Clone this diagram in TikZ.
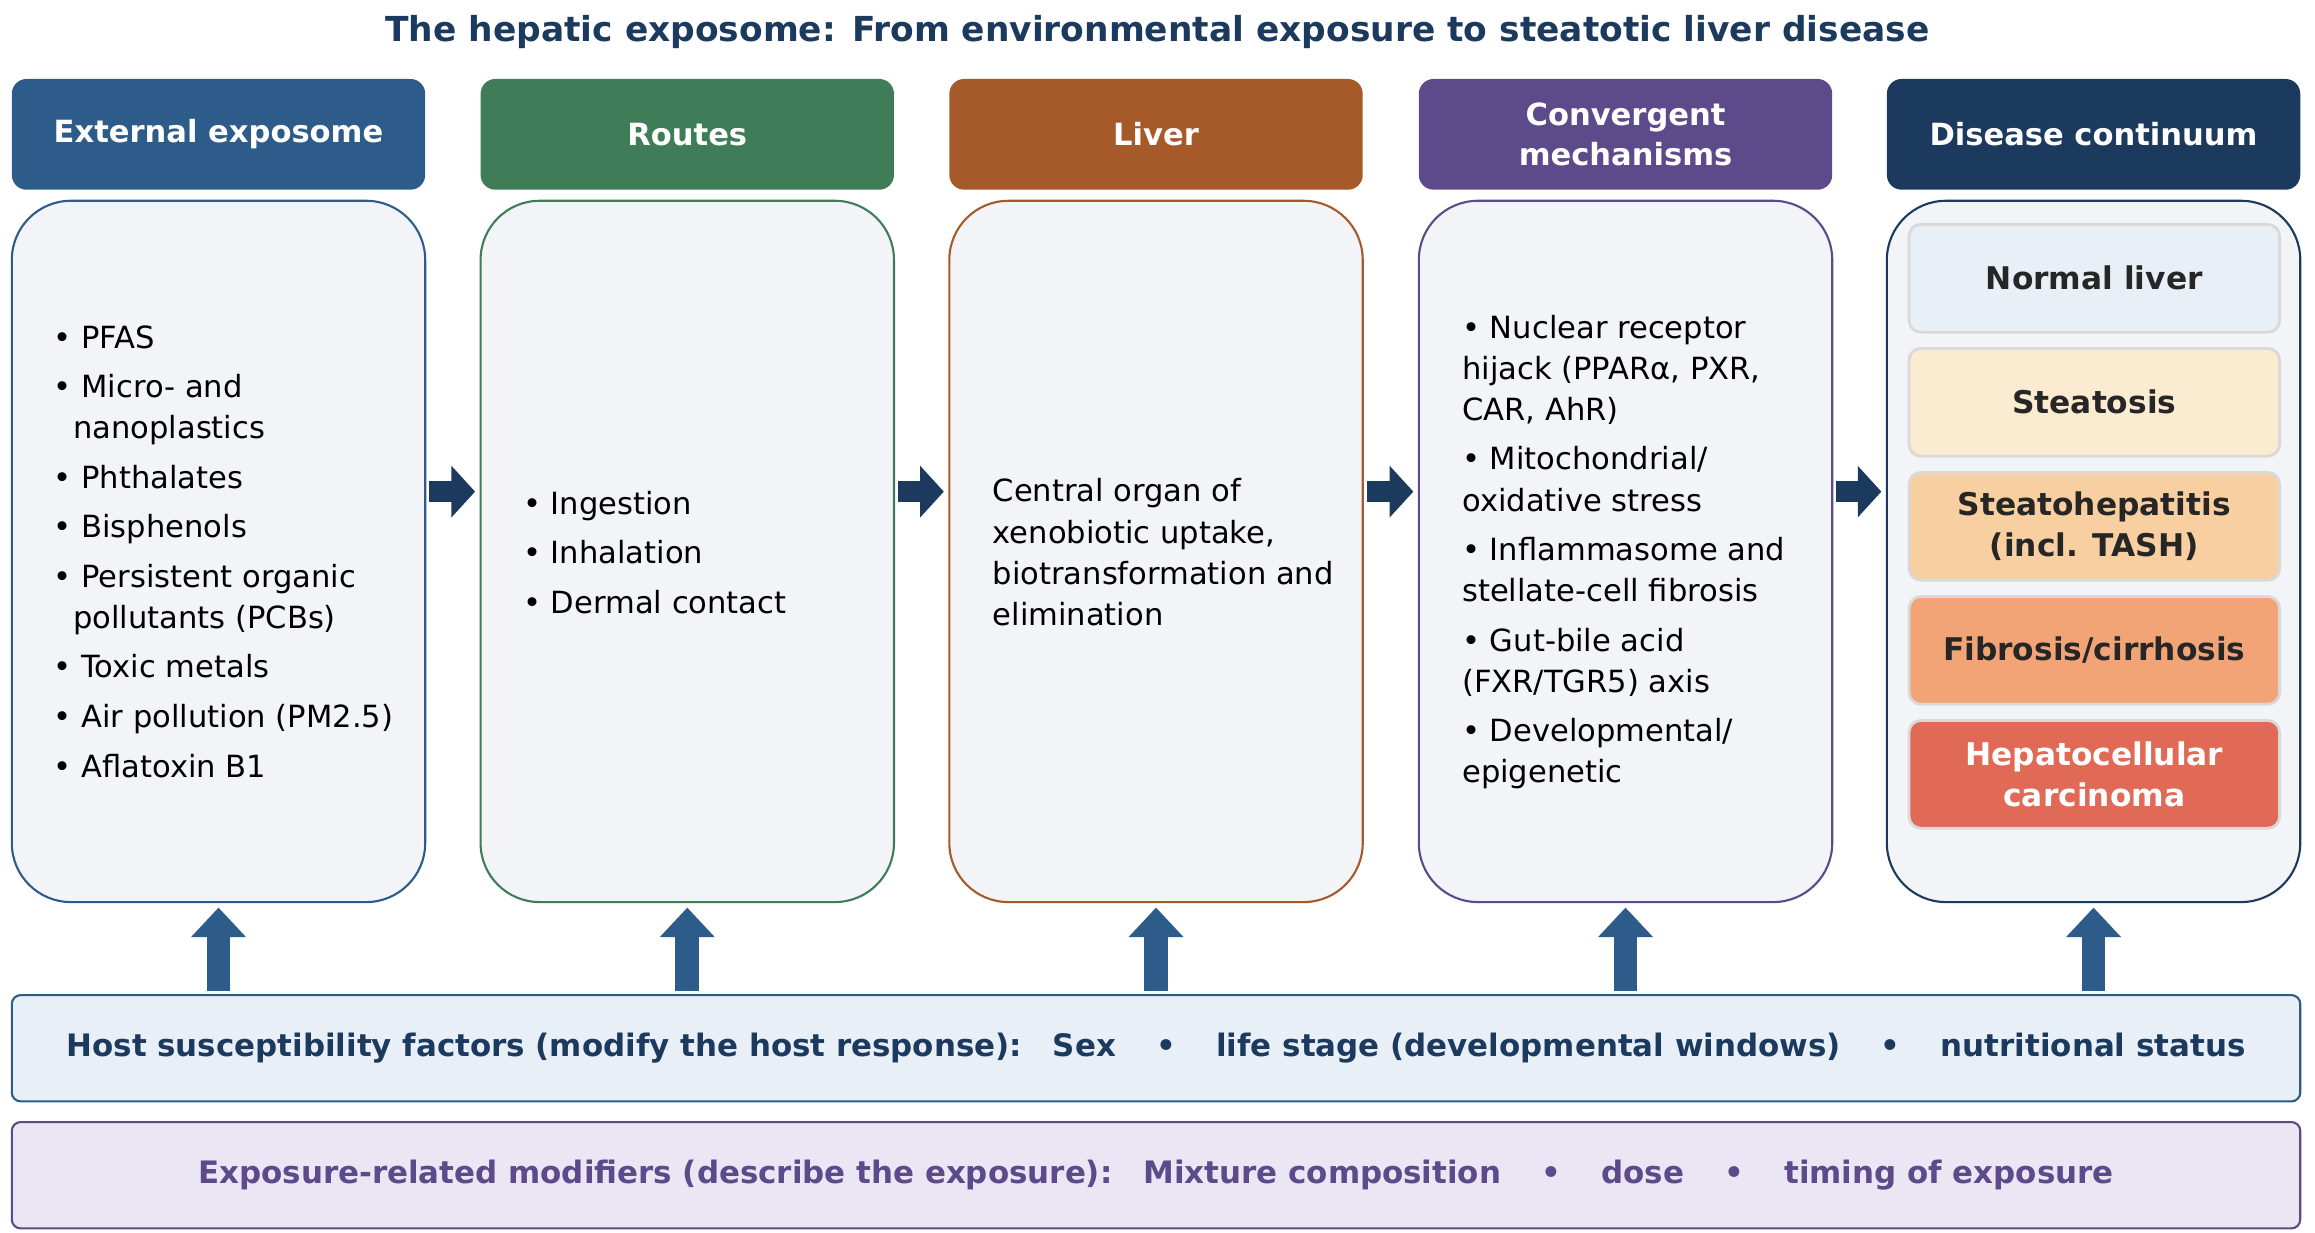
\documentclass[tikz,border=0pt]{standalone}
\usepackage{fontspec}
\setmainfont{DejaVu Sans}
\usetikzlibrary{arrows.meta,positioning}
\definecolor{cBlue}{HTML}{2E5C8A}
\definecolor{cGreen}{HTML}{3E7D57}
\definecolor{cBrown}{HTML}{A65A2A}
\definecolor{cPurple}{HTML}{5C4A8A}
\definecolor{cNavy}{HTML}{1C3A5E}
\definecolor{cBody}{HTML}{F3F4F8}
\definecolor{cHost}{HTML}{E8EFF7}
\definecolor{cExpo}{HTML}{EAE6F3}
\definecolor{cSteat}{HTML}{FBEBD0}
\definecolor{cNash}{HTML}{F7CFA0}
\definecolor{cFib}{HTML}{F2A477}
\definecolor{cHcc}{HTML}{E06A55}
\def\u{0.014764cm}
\tikzset{
  head/.style={rectangle, rounded corners=10*\u, fill=#1, text=white, font=\fontsize{8.7pt}{11.5pt}\selectfont\bfseries,
    minimum width=280*\u, minimum height=75*\u, align=center, inner sep=0pt},
  body/.style={rectangle, rounded corners=40*\u, draw=#1, fill=cBody, line width=0.6pt,
    minimum width=280*\u, minimum height=475*\u, inner sep=0pt},
  txt/.style={align=left, anchor=west, text=black, font=\fontsize{8.7pt}{11.7pt}\selectfont},
  stage/.style={rectangle, rounded corners=8*\u, fill=#1, draw=black!15, line width=0.8pt,
    minimum width=251*\u, minimum height=73*\u, align=center, inner sep=0pt,
    font=\fontsize{8.9pt}{11.5pt}\selectfont\bfseries, text=black!85},
  bar/.style={rectangle, rounded corners=6*\u, minimum width=1550*\u, minimum height=72*\u,
    inner sep=0pt, font=\fontsize{8.8pt}{11pt}\selectfont\bfseries, line width=0.6pt},
  flow/.style={line width=14*\u, draw=cNavy, -{Triangle[length=16*\u, width=34*\u]}, shorten <=2*\u, shorten >=3*\u},
  up/.style={line width=16*\u, draw=cBlue, -{Triangle[length=20*\u, width=36*\u]}, shorten <=2*\u, shorten >=3*\u},
}
\newcommand{\gap}{\\[2.4pt]}
\newcommand{\sep}{\hspace{1.3em}•\hspace{1.3em}}
\begin{document}
\begin{tikzpicture}[x=0.014764cm, y=-0.014764cm]
\useasboundingbox (0,0) rectangle (1568,835);
\node[text=cNavy, font=\fontsize{9.8pt}{12pt}\selectfont\bfseries] (title) at (784,22)
  {The hepatic exposome: From environmental exposure to steatotic liver disease};
% headers
\node[head=cBlue] (h1) at (148,91) {External exposome};
\node[head=cGreen] (h2) at (465.5,91) {Routes};
\node[head=cBrown] (h3) at (783,91) {Liver};
\node[head=cPurple] (h4) at (1101,91) {Convergent\\mechanisms};
\node[head=cNavy] (h5) at (1418,91) {Disease continuum};
% bodies
\node[body=cBlue] (b1) at (148,373.5) {};
\node[body=cGreen] (b2) at (465.5,373.5) {};
\node[body=cBrown] (b3) at (783,373.5) {};
\node[body=cPurple] (b4) at (1101,373.5) {};
\node[body=cNavy] (b5) at (1418,373.5) {};
% texts
\node[txt] (t1) at (28,373.5) {• PFAS\gap • Micro- and\\ \ \ nanoplastics\gap • Phthalates\gap • Bisphenols\gap
  • Persistent organic\\ \ \ pollutants (PCBs)\gap • Toxic metals\gap • Air pollution (PM2.5)\gap • Aflatoxin B1};
\node[txt] (t2) at (346,374) {• Ingestion\gap • Inhalation\gap • Dermal contact};
\node[txt] (t3) at (664,374) {Central organ of\\xenobiotic uptake,\\biotransformation and\\elimination};
\node[txt] (t4) at (982,374) {• Nuclear receptor\\hijack (PPARα, PXR,\\CAR, AhR)\gap • Mitochondrial/\\oxidative stress\gap
  • Inflammasome and\\stellate-cell fibrosis\gap • Gut-bile acid\\(FXR/TGR5) axis\gap • Developmental/\\epigenetic};
% disease stages
\node[stage=cHost] (s1) at (1418.5,188.5) {Normal liver};
\node[stage=cSteat] (s2) at (1418.5,272.5) {Steatosis};
\node[stage=cNash] (s3) at (1418.5,356.5) {Steatohepatitis\\(incl. TASH)};
\node[stage=cFib] (s4) at (1418.5,440.5) {Fibrosis/cirrhosis};
\node[stage=cHcc, text=white] (s5) at (1418.5,524.5) {Hepatocellular\\carcinoma};
% flow arrows
\draw[flow] (b1.east |- 0,333) -- (b2.west |- 0,333);
\draw[flow] (b2.east |- 0,333) -- (b3.west |- 0,333);
\draw[flow] (b3.east |- 0,333) -- (b4.west |- 0,333);
\draw[flow] (b4.east |- 0,333) -- (b5.west |- 0,333);
% bars
\node[bar, fill=cHost, draw=cBlue, text=cNavy] (host) at (783,710)
  {Host susceptibility factors (modify the host response):\hspace{1em}Sex\sep life stage (developmental windows)\sep nutritional status};
\node[bar, fill=cExpo, draw=cPurple, text=cPurple] (expo) at (783,796)
  {Exposure-related modifiers (describe the exposure):\hspace{1em}Mixture composition\sep dose\sep timing of exposure};
% up arrows
\foreach \b in {b1,b2,b3,b4,b5}
  \draw[up] (host.north -| \b.south) -- (\b.south);
\end{tikzpicture}
\end{document}
